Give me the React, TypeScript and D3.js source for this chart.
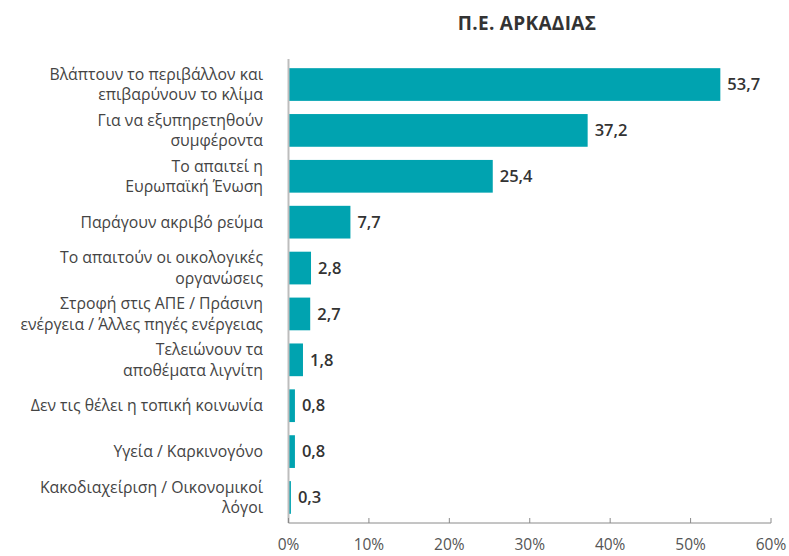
import React from 'react';
import * as d3 from 'd3';

const title = 'Π.Ε. ΑΡΚΑΔΙΑΣ';
const categories = [
  'Βλάπτουν το περιβάλλον και\nεπιβαρύνουν το κλίμα',
  'Για να εξυπηρετηθούν\nσυμφέροντα',
  'Το απαιτεί η\nΕυρωπαϊκή Ένωση',
  'Παράγουν ακριβό ρεύμα',
  'Το απαιτούν οι οικολογικές\nοργανώσεις',
  'Στροφή στις ΑΠΕ / Πράσινη\nενέργεια / Άλλες πηγές ενέργειας',
  'Τελειώνουν τα\nαποθέματα λιγνίτη',
  'Δεν τις θέλει η τοπική κοινωνία',
  'Υγεία / Καρκινογόνο',
  'Κακοδιαχείριση / Οικονομικοί\nλόγοι',
];
const values = [53.7, 37.2, 25.4, 7.7, 2.8, 2.7, 1.8, 0.8, 0.8, 0.3];
const tickValues = [0, 10, 20, 30, 40, 50, 60];

const W = 789;
const H = 556;
const x0 = 288.5;
const x1 = 771;
const axisY = 523;
const font = '"Open Sans", "Noto Sans", sans-serif';

export default function App() {
  const x = d3.scaleLinear().domain([0, 60]).range([x0, x1]);
  const y = d3
    .scaleBand<number>()
    .domain(d3.range(categories.length))
    .range([55, 527])
    .paddingInner(0.287)
    .paddingOuter(0.287);
  const fmt = (v: number) => v.toFixed(1).replace('.', ',');
  const bw = y.bandwidth();

  return (
    <svg
      width={W}
      height={H}
      style={{ position: 'absolute', left: 0, top: 0, background: '#fff' }}
    >
      <text
        x={527}
        y={30}
        textAnchor="middle"
        fontFamily={font}
        fontWeight={700}
        fontSize={19}
        letterSpacing={0.3}
        fill="#333"
      >
        {title}
      </text>

      {values.map((v, i) => (
        <rect
          key={'b' + i}
          x={x(0)}
          y={y(i)!}
          width={x(v) - x(0)}
          height={bw}
          fill="#00A3B0"
        />
      ))}

      {values.map((v, i) => (
        <text
          key={'v' + i}
          x={x(v) + 7}
          y={y(i)! + bw / 2}
          dy="0.35em"
          fontFamily={font}
          fontWeight={600}
          fontSize={16.5}
          fill="#333"
        >
          {fmt(v)}
        </text>
      ))}

      {categories.map((c, i) => {
        const lines = c.split('\n');
        const cy = y(i)! + bw / 2;
        const lh = 20.5;
        return (
          <text
            key={'c' + i}
            x={263}
            textAnchor="end"
            fontFamily={font}
            fontSize={15.8}
            fill="#444"
          >
            {lines.map((l, j) => (
              <tspan
                key={j}
                x={263}
                y={cy + (j - (lines.length - 1) / 2) * lh}
                dy="0.35em"
              >
                {l}
              </tspan>
            ))}
          </text>
        );
      })}

      <line x1={x0} x2={x0} y1={59} y2={axisY} stroke="#bdbdbd" strokeWidth={2} />
      <line x1={x0} x2={x1} y1={axisY} y2={axisY} stroke="#8a8a8a" strokeWidth={1} />
      {tickValues.map((t) => (
        <g key={'t' + t}>
          <line
            x1={x(t)}
            x2={x(t)}
            y1={axisY}
            y2={axisY - 5}
            stroke="#8a8a8a"
            strokeWidth={1}
          />
          <text
            x={x(t)}
            y={545}
            dy="0.35em"
            textAnchor="middle"
            fontFamily={font}
            fontSize={15.5}
            fill="#555"
          >
            {t + '%'}
          </text>
        </g>
      ))}
    </svg>
  );
}
